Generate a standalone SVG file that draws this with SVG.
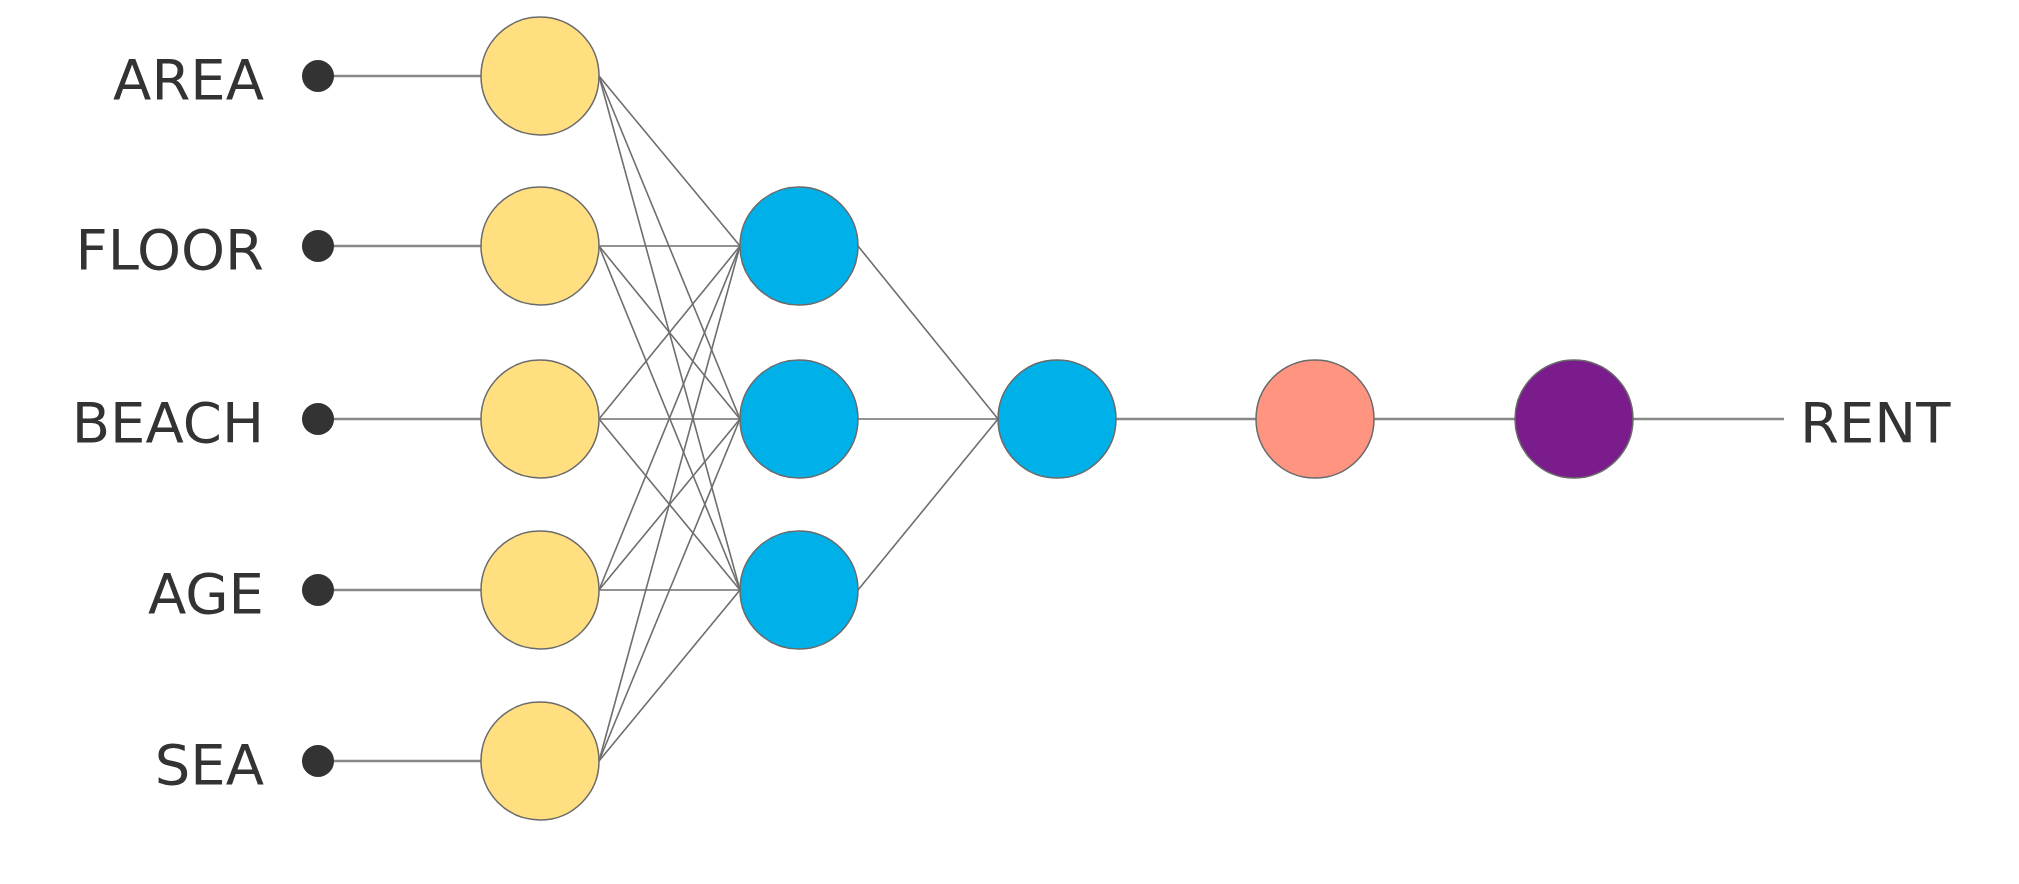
<svg xmlns="http://www.w3.org/2000/svg" width="2019" height="884" viewBox="0 0 2019 884">
<style>
.l{stroke:#6e6e6e;stroke-width:1.6;fill:none}
.w{stroke:#888;stroke-width:2.5}
.n{stroke:#6a6a6a;stroke-width:1.5}
.t{font-family:"DejaVu Sans","Liberation Sans",sans-serif;font-size:56px;fill:#333}
</style>
<rect width="2019" height="884" fill="#fff"/>
<g id="connectors">
<g class="w">
<line x1="318" y1="76" x2="481" y2="76"/><line x1="318" y1="246" x2="481" y2="246"/><line x1="318" y1="419" x2="481" y2="419"/><line x1="318" y1="590" x2="481" y2="590"/><line x1="318" y1="761" x2="481" y2="761"/>
<line x1="1116" y1="419" x2="1256" y2="419"/><line x1="1374" y1="419" x2="1515" y2="419"/><line x1="1633" y1="419" x2="1784" y2="419"/>
</g>
<g class="l">
<line x1="599" y1="76" x2="740" y2="246"/><line x1="599" y1="76" x2="740" y2="419"/><line x1="599" y1="76" x2="740" y2="590"/>
<line x1="599" y1="246" x2="740" y2="246"/><line x1="599" y1="246" x2="740" y2="419"/><line x1="599" y1="246" x2="740" y2="590"/>
<line x1="599" y1="419" x2="740" y2="246"/><line x1="599" y1="419" x2="740" y2="419"/><line x1="599" y1="419" x2="740" y2="590"/>
<line x1="599" y1="590" x2="740" y2="246"/><line x1="599" y1="590" x2="740" y2="419"/><line x1="599" y1="590" x2="740" y2="590"/>
<line x1="599" y1="761" x2="740" y2="246"/><line x1="599" y1="761" x2="740" y2="419"/><line x1="599" y1="761" x2="740" y2="590"/>
<line x1="858" y1="246" x2="998" y2="419"/><line x1="858" y1="419" x2="998" y2="419"/><line x1="858" y1="590" x2="998" y2="419"/>
</g>
</g>
<g id="in-area"><text class="t" x="264" y="99" text-anchor="end">AREA</text><circle cx="318" cy="76" r="16" fill="#333"/><circle class="n" cx="540" cy="76" r="59" fill="#FFDF80"/></g>
<g id="in-floor"><text class="t" x="264" y="269" text-anchor="end">FLOOR</text><circle cx="318" cy="246" r="16" fill="#333"/><circle class="n" cx="540" cy="246" r="59" fill="#FFDF80"/></g>
<g id="in-beach"><text class="t" x="264" y="442" text-anchor="end">BEACH</text><circle cx="318" cy="419" r="16" fill="#333"/><circle class="n" cx="540" cy="419" r="59" fill="#FFDF80"/></g>
<g id="in-age"><text class="t" x="264" y="613" text-anchor="end">AGE</text><circle cx="318" cy="590" r="16" fill="#333"/><circle class="n" cx="540" cy="590" r="59" fill="#FFDF80"/></g>
<g id="in-sea"><text class="t" x="264" y="784" text-anchor="end">SEA</text><circle cx="318" cy="761" r="16" fill="#333"/><circle class="n" cx="540" cy="761" r="59" fill="#FFDF80"/></g>
<g id="h1"><circle class="n" cx="799" cy="246" r="59" fill="#00B0E8"/></g>
<g id="h2"><circle class="n" cx="799" cy="419" r="59" fill="#00B0E8"/></g>
<g id="h3"><circle class="n" cx="799" cy="590" r="59" fill="#00B0E8"/></g>
<g id="out"><circle class="n" cx="1057" cy="419" r="59" fill="#00B0E8"/></g>
<g id="act"><circle class="n" cx="1315" cy="419" r="59" fill="#FF9580"/></g>
<g id="final"><circle class="n" cx="1574" cy="419" r="59" fill="#7B1C8C"/></g>
<g id="rent"><text class="t" x="1800" y="442">RENT</text></g>
</svg>
